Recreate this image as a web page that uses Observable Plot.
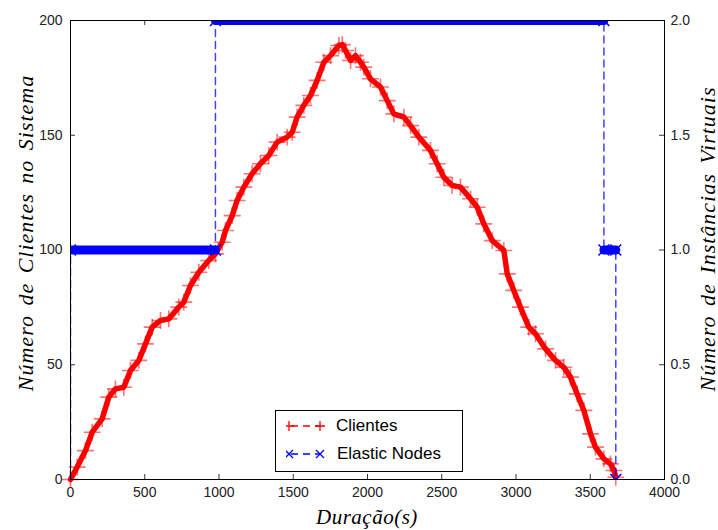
<!DOCTYPE html>
<html>
<head>
<meta charset="utf-8">
<script src="https://cdn.jsdelivr.net/npm/d3@7"></script>
<script src="https://cdn.jsdelivr.net/npm/@observablehq/plot@0.6"></script>
<style>
  html, body { margin: 0; padding: 0; background: #fff; }
  #wrap { position: relative; width: 718px; height: 530px; }
  .ttl { position: absolute; font-family: "Liberation Serif", serif; font-style: italic; font-size: 21px; color: #000; white-space: nowrap; }
  .yt { font-size: 22px; letter-spacing: 1px; word-spacing: 3px; }
  #legend { position: absolute; left: 275px; top: 410px; width: 186px; height: 60px; border: 1px solid #000; background: #fff; font-family: "Liberation Sans", Arial, sans-serif; font-size: 17px; }
  #legend .row { position: absolute; left: 0; height: 24px; display: flex; align-items: center; }
</style>
</head>
<body>
<div id="wrap"></div>
<script>
// ---- data ----
const clientesT = [0, 45, 101, 146, 213, 258, 303, 359, 404, 460, 505, 550, 606, 662, 729, 763, 808, 864, 931, 976,
  1021, 1044, 1089, 1122, 1167, 1223, 1279, 1335, 1392, 1459, 1493, 1526, 1571, 1616, 1661, 1706, 1751, 1807, 1830,
  1852, 1886, 1919, 1953, 1975, 2020, 2088, 2133, 2177, 2245, 2290, 2346, 2424, 2469, 2514, 2570, 2626, 2694, 2739,
  2783, 2840, 2918, 2941, 2985, 3030, 3086, 3131, 3199, 3266, 3322, 3367, 3412, 3457, 3502, 3535, 3592, 3636, 3660, 3672];
const clientesV = [0, 5.4, 12.6, 20.6, 26.4, 35.9, 39.5, 40.2, 47.5, 51.9, 59.1, 66.4, 69.3, 70.0, 75.1, 77.3, 84.5, 90.3, 95.4, 98.3,
  103.4, 108.5, 115, 121.6, 127.4, 133.2, 137.6, 141.2, 147, 149.2, 151.3, 157.9, 163, 167.3, 173.9, 181.8, 184.7, 189.1, 189.5,
  186.9, 182.6, 184.7, 181.8, 179.7, 174.6, 171, 165.1, 159.3, 157.9, 154.2, 149.2, 143.4, 137.6, 131.7, 128.1, 127.4, 122.3, 118.6,
  111.4, 104.1, 99.8, 89.6, 82.4, 75.1, 66.4, 63.5, 56.9, 51.9, 48.9, 44.6, 37.3, 30.1, 19.9, 14.1, 9.0, 6.8, 3.9, 1];
const nodesT = [0, 0, 976, 976, 3592, 3592, 3672, 3672];
const nodesV = [0, 1, 1, 2, 2, 1, 1, 0];
const xTicks = [0, 500, 1000, 1500, 2000, 2500, 3000, 3500, 4000];
const yTicks = [0, 50, 100, 150, 200];
const y2Ticks = [0.0, 0.5, 1.0, 1.5, 2.0];
const xDomain = [0, 4000], yDomain = [0, 200], y2Domain = [0, 2.0];
const labels = { x: "Duração(s)", yLeft: "Número de Clientes no Sistema", yRight: "Número de Instâncias Virtuais" };
const seriesNames = ["Clientes", "Elastic Nodes"];

// ---- build ----
const k = (yDomain[1] - yDomain[0]) / (y2Domain[1] - y2Domain[0]); // secondary -> primary
const clientes = clientesT.map((t, i) => ({ t, v: clientesV[i] }));
const nodes = nodesT.map((t, i) => ({ t, v: nodesV[i] * k }));
const flat = [];
for (let i = 1; i < nodes.length; i++) {
  if (nodes[i].v === nodes[i - 1].v && nodes[i].v > 0) flat.push([nodes[i - 1], nodes[i]]);
}
const flatPts = flat.flatMap((s, j) => s.map(p => ({ ...p, seg: j })));

const W = 718, H = 530, mt = 20, mr = 54, mb = 51, ml = 70;
const iw = W - ml - mr, ih = H - mt - mb;
const red = "#ff0000", blue = "#0000ff";

const chart = Plot.plot({
  width: W, height: H, marginTop: mt, marginRight: mr, marginBottom: mb, marginLeft: ml,
  style: { fontFamily: "'Liberation Sans', Arial, sans-serif", fontSize: "14px", color: "#222", background: "#fff", overflow: "visible" },
  x: { domain: xDomain },
  y: { domain: yDomain },
  marks: [
    Plot.axisX(xTicks, { anchor: "bottom", tickSize: 0, tickPadding: 8, label: null, tickFormat: d => String(d) }),
    Plot.axisY(yTicks, { anchor: "left", tickSize: 0, tickPadding: 8, label: null, tickFormat: d => String(d) }),
    Plot.axisY(y2Ticks.map(d => d * k), { anchor: "right", tickSize: 0, tickPadding: 6, label: null, tickFormat: d => (d / k).toFixed(1) }),
    // inward ticks
    Plot.tickX(xTicks, { x: d => d, insetTop: ih - 5, stroke: "#000", strokeOpacity: 0.8 }),
    Plot.tickX(xTicks, { x: d => d, insetBottom: ih - 5, stroke: "#000", strokeOpacity: 0.8 }),
    Plot.tickY(yTicks, { y: d => d, insetRight: iw - 5, stroke: "#000", strokeOpacity: 0.8 }),
    Plot.tickY(yTicks, { y: d => d, insetLeft: iw - 5, stroke: "#000", strokeOpacity: 0.8 }),
    // clientes
    Plot.line(clientes, { x: "t", y: "v", stroke: red, strokeWidth: 5.5, curve: "linear" }),
    Plot.dot(clientes, { x: "t", y: "v", symbol: "plus", r: 5.5, stroke: red, strokeWidth: 1.6, strokeOpacity: 0.55 }),
    // elastic nodes
    Plot.line(nodes, { x: "t", y: "v", stroke: blue, strokeOpacity: 0.75, strokeWidth: 1.5, strokeDasharray: "7,5", clip: true }),
    Plot.line(flatPts, { x: "t", y: "v", z: "seg", stroke: blue, strokeWidth: 9, clip: true }),
    Plot.dot(nodes.filter((d, i) => i > 0), { x: "t", y: "v", symbol: "times", r: 5, stroke: blue, strokeWidth: 1.5, clip: true }),
    Plot.frame({ stroke: "#000", strokeWidth: 1 })
  ]
});

const wrap = document.getElementById("wrap");
wrap.appendChild(chart);

function addTitle(text, cls) {
  const d = document.createElement("div");
  d.className = "ttl" + (cls ? " " + cls : "");
  d.textContent = text;
  wrap.appendChild(d);
  return d;
}
const tx = addTitle(labels.x);
tx.style.letterSpacing = "0.5px";
tx.style.left = (ml + iw / 2 - tx.offsetWidth / 2) + "px";
tx.style.top = "505px";
const tl = addTitle(labels.yLeft, "yt");
tl.style.left = (26 - tl.offsetWidth / 2) + "px";
tl.style.top = (233 - tl.offsetHeight / 2) + "px";
tl.style.transform = "rotate(-90deg)";
const tr = addTitle(labels.yRight, "yt");
tr.style.left = (707 - tr.offsetWidth / 2) + "px";
tr.style.top = (239 - tr.offsetHeight / 2) + "px";
tr.style.transform = "rotate(-90deg)";

// legend
const lg = document.createElement("div");
lg.id = "legend";
const sw = (color, sym) => {
  const mk = (cx) => sym === "plus"
    ? `<path d="M${cx-5},12H${cx+5}M${cx},7V17" stroke="${color}" stroke-width="1.3"/>`
    : `<path d="M${cx-4},8L${cx+4},16M${cx-4},16L${cx+4},8" stroke="${color}" stroke-width="1.3"/>`;
  return `<svg width="40" height="24" style="margin-left:10px"><line x1="2" y1="12" x2="35" y2="12" stroke="${color}" stroke-width="1.3" stroke-dasharray="7,5" stroke-dashoffset="-3"/>${mk(3)}${mk(34)}</svg>`;
};
lg.innerHTML =
  `<div class="row" style="top:3px">${sw(red, "plus")}<span style="margin-left:10px">${seriesNames[0]}</span></div>` +
  `<div class="row" style="top:31px">${sw(blue, "times")}<span style="margin-left:11px">${seriesNames[1]}</span></div>`;
wrap.appendChild(lg);
</script>
</body>
</html>
